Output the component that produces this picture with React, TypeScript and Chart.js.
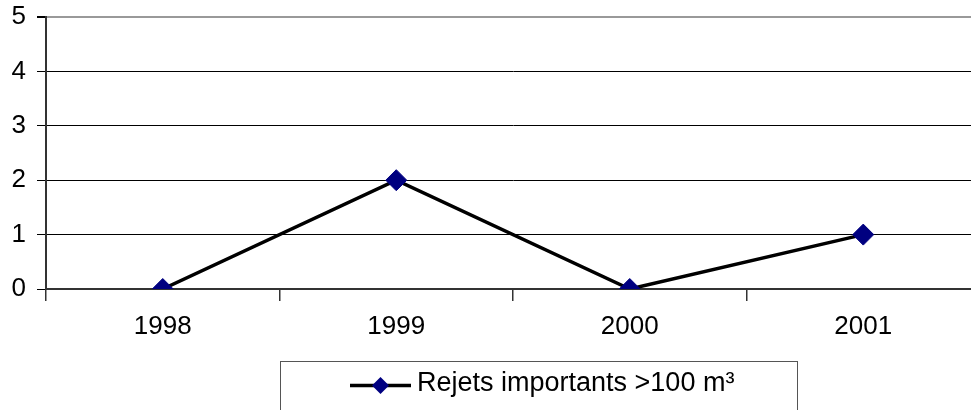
import React, { useEffect, useRef } from "react";
import { Chart, registerables } from "chart.js";

Chart.register(...registerables);

const categories = ["1998", "1999", "2000", "2001"];
const seriesLabel = "Rejets importants >100 m³";
const seriesValues = [0, 2, 0, 1];
const yTicks = [0, 1, 2, 3, 4, 5];

const FONT = "'Liberation Sans', Arial, sans-serif";

const legendBoxPlugin = {
  id: "legendBox",
  afterDraw(chart: any) {
    const ctx = chart.ctx;
    const ds = chart.data.datasets[0];
    ctx.save();
    ctx.strokeStyle = "#555";
    ctx.lineWidth = 1;
    ctx.strokeRect(280.5, 361.5, 517, 80);
    ctx.strokeStyle = "#000";
    ctx.lineWidth = 3.5;
    ctx.beginPath();
    ctx.moveTo(350, 385.5);
    ctx.lineTo(411, 385.5);
    ctx.stroke();
    ctx.fillStyle = ds.pointBackgroundColor;
    ctx.beginPath();
    const cx = 380.5, cy = 385.5, r = 8.5;
    ctx.moveTo(cx, cy - r);
    ctx.lineTo(cx + r, cy);
    ctx.lineTo(cx, cy + r);
    ctx.lineTo(cx - r, cy);
    ctx.closePath();
    ctx.fill();
    ctx.fillStyle = "#000";
    ctx.font = `27px ${FONT}`;
    ctx.textBaseline = "alphabetic";
    ctx.textAlign = "left";
    ctx.fillText(ds.label, 417, 391);
    ctx.restore();
  },
};

export default function App() {
  const ref = useRef<HTMLCanvasElement>(null);
  useEffect(() => {
    const chart = new Chart(ref.current as HTMLCanvasElement, {
      type: "line",
      data: {
        labels: categories,
        datasets: [
          {
            label: seriesLabel,
            data: seriesValues,
            borderColor: "#000",
            borderWidth: 3.5,
            pointStyle: "rectRot",
            pointRadius: 10.5,
            pointBackgroundColor: "#000080",
            pointBorderColor: "#000080",
            pointBorderWidth: 1,
            tension: 0,
          },
        ],
      },
      options: {
        animation: false,
        responsive: false,
        devicePixelRatio: 1,
        layout: { autoPadding: false, padding: { top: 17, left: 0, right: 0, bottom: 0 } },
        plugins: { legend: { display: false }, tooltip: { enabled: false } },
        scales: {
          x: {
            type: "category",
            offset: true,
            afterFit: (s: any) => {
              s.height = 121;
            },
            grid: {
              offset: true,
              drawOnChartArea: false,
              drawTicks: true,
              tickLength: 12,
              color: "#333",
              lineWidth: 1.5,
            },
            border: { color: "#333", width: 2 },
            ticks: {
              color: "#000",
              font: { family: FONT, size: 26 },
              padding: 10,
              maxRotation: 0,
            },
          },
          y: {
            min: 0,
            max: 5,
            afterFit: (s: any) => {
              s.width = 46;
              s.paddingTop = 0;
              s.paddingBottom = 0;
            },
            afterBuildTicks: (s: any) => {
              s.ticks = yTicks.map((v) => ({ value: v }));
            },
            grid: {
              color: (c: any) => (c.tick && c.tick.value === 5 ? "#999" : "#000"),
              lineWidth: (c: any) => (c.tick && c.tick.value === 5 ? 2 : 1),
              tickColor: "#000",
              tickLength: 9,
            },
            border: { color: "#333", width: 2 },
            ticks: {
              color: "#000",
              font: { family: FONT, size: 26 },
              padding: 11,
              stepSize: 1,
            },
          },
        },
      },
      plugins: [legendBoxPlugin],
    });
    return () => chart.destroy();
  }, []);
  return (
    <div
      style={{
        position: "fixed",
        left: 0,
        top: 0,
        width: 971,
        height: 410,
        overflow: "hidden",
        background: "#fff",
      }}
    >
      <canvas ref={ref} width={980} height={410} style={{ display: "block" }} />
    </div>
  );
}
